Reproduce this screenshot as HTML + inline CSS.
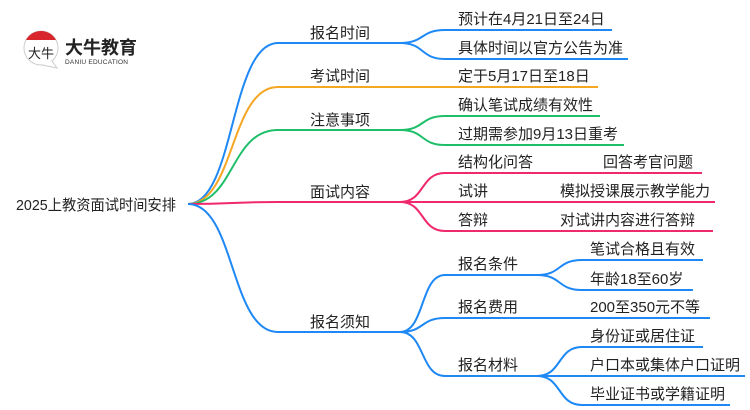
<!DOCTYPE html>
<html><head><meta charset="utf-8"><style>
html,body{margin:0;padding:0;background:#fff;width:750px;height:410px;overflow:hidden}
text{font-family:"Liberation Sans","Noto Sans CJK SC",sans-serif;font-size:15px;fill:#222}
</style></head><body>
<svg width="750" height="410" viewBox="0 0 750 410" xmlns="http://www.w3.org/2000/svg">
<g fill="none" stroke-width="2">
<path d="M188 204 C235 204 230 43 278 43 L400 43" stroke="#1e88f5"/>
<path d="M188 204 C235 204 230 87 278 87 L400 87" stroke="#f5a623"/>
<path d="M188 204 C235 204 230 130 278 130 L400 130" stroke="#1fbf6a"/>
<path d="M188 204 C235 204 230 202 278 202 L400 202" stroke="#f0286e"/>
<path d="M188 204 C235 204 230 332 278 332 L400 332" stroke="#1e88f5"/>
<path d="M400 43 C425 43 420 30 445 30 L612 30" stroke="#1e88f5"/>
<path d="M400 43 C425 43 420 59 445 59 L628 59" stroke="#1e88f5"/>
<path d="M400 87 L598 87" stroke="#f5a623"/>
<path d="M400 130 C425 130 420 116 445 116 L600 116" stroke="#1fbf6a"/>
<path d="M400 130 C425 130 420 145 445 145 L624 145" stroke="#1fbf6a"/>
<path d="M400 202 C425 202 420 173 445 173 L702 173" stroke="#f0286e"/>
<path d="M400 202 L715 202" stroke="#f0286e"/>
<path d="M400 202 C425 202 420 231 445 231 L713 231" stroke="#f0286e"/>
<path d="M400 332 C425 332 420 275 445 275 L537 275" stroke="#1e88f5"/>
<path d="M400 332 C425 332 420 318 445 318 L710 318" stroke="#1e88f5"/>
<path d="M400 332 C425 332 420 376 445 376 L537 376" stroke="#1e88f5"/>
<path d="M537 275 C562 275 557 260 582 260 L703 260" stroke="#1e88f5"/>
<path d="M537 275 C562 275 557 290 582 290 L693 290" stroke="#1e88f5"/>
<path d="M537 376 C562 376 557 347 582 347 L703 347" stroke="#1e88f5"/>
<path d="M537 376 L745 376" stroke="#1e88f5"/>
<path d="M537 376 C562 376 557 405 582 405 L730 405" stroke="#1e88f5"/>
</g>
<!-- logo -->
<circle cx="41" cy="48" r="17" fill="#fff" stroke="#ccc" stroke-width="1"/>
<path d="M26 40 A17 17 0 0 1 56 40 Z" fill="#d8262c"/>
<path d="M42 65 L57 68 L52 61" fill="#fff" stroke="#ccc" stroke-width="1"/>
<text x="28" y="58" style="font-size:13px;fill:#222">大牛</text>
<text x="65" y="54" style="font-size:18px;font-weight:bold;fill:#222">大牛教育</text>
<text x="65" y="64" textLength="63" style="font-size:6.5px;fill:#333">DANIU EDUCATION</text>
<text x="16" y="210" textLength="160" lengthAdjust="spacingAndGlyphs">2025上教资面试时间安排</text>
<text x="310" y="38">报名时间</text>
<text x="310" y="81">考试时间</text>
<text x="310" y="125">注意事项</text>
<text x="310" y="197">面试内容</text>
<text x="310" y="327">报名须知</text>
<text x="458" y="24">预计在4月21日至24日</text>
<text x="458" y="53">具体时间以官方公告为准</text>
<text x="458" y="81">定于5月17日至18日</text>
<text x="458" y="110">确认笔试成绩有效性</text>
<text x="458" y="139">过期需参加9月13日重考</text>
<text x="458" y="167">结构化问答</text>
<text x="603" y="167">回答考官问题</text>
<text x="458" y="196">试讲</text>
<text x="560" y="196">模拟授课展示教学能力</text>
<text x="458" y="225">答辩</text>
<text x="560" y="225">对试讲内容进行答辩</text>
<text x="458" y="269">报名条件</text>
<text x="458" y="312">报名费用</text>
<text x="458" y="370">报名材料</text>
<text x="590" y="254">笔试合格且有效</text>
<text x="590" y="284">年龄18至60岁</text>
<text x="590" y="312">200至350元不等</text>
<text x="590" y="341">身份证或居住证</text>
<text x="590" y="370">户口本或集体户口证明</text>
<text x="590" y="399">毕业证书或学籍证明</text>
</svg>
</body></html>
